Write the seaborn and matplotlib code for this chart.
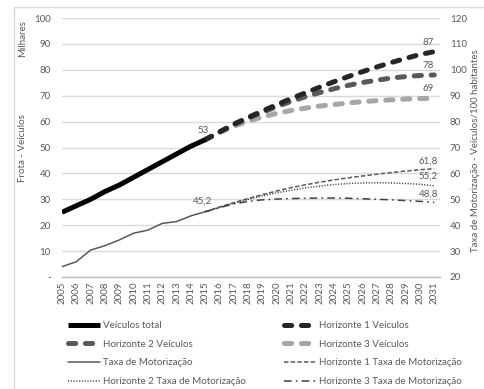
import matplotlib
matplotlib.use("Agg")
import matplotlib.pyplot as plt
import seaborn as sns
import pandas as pd
from matplotlib.patches import Rectangle
from matplotlib.ticker import FixedLocator

# ---- data -------------------------------------------------------------
anos_hist = list(range(2005, 2016))
anos_proj = list(range(2015, 2032))

veiculos_total = [25.0, 27.5, 30.0, 33.0, 35.5, 38.5, 41.5, 44.5, 47.5, 50.5, 53.0]
h1_veiculos = [53.0, 56.0, 59.0, 61.6, 64.1, 66.5, 68.9, 71.1, 73.3, 75.4, 77.4,
               79.3, 81.1, 82.8, 84.4, 85.9, 87.0]
h2_veiculos = [53.0, 56.0, 58.8, 61.3, 63.6, 65.8, 67.8, 69.6, 71.2, 72.7, 74.0,
               75.1, 76.0, 76.8, 77.4, 77.8, 78.0]
h3_veiculos = [53.0, 55.8, 58.2, 60.2, 61.8, 63.2, 64.3, 65.2, 66.0, 66.6, 67.2,
               67.7, 68.1, 68.4, 68.7, 68.9, 69.0]

taxa = [24.0, 25.9, 30.4, 32.1, 34.3, 36.9, 38.1, 40.7, 41.4, 43.6, 45.2]
h1_taxa = [45.2, 47.0, 48.7, 50.3, 51.8, 53.2, 54.5, 55.6, 56.6, 57.5, 58.3,
           59.0, 59.7, 60.3, 60.9, 61.4, 61.8]
h2_taxa = [45.2, 46.9, 48.5, 50.0, 51.3, 52.5, 53.5, 54.4, 55.1, 55.7, 56.1,
           56.3, 56.4, 56.3, 56.1, 55.8, 55.2]
h3_taxa = [45.2, 46.8, 48.2, 49.2, 49.8, 50.1, 50.3, 50.4, 50.5, 50.5, 50.4,
           50.2, 50.0, 49.8, 49.5, 49.2, 48.8]

rotulos_esq = ["-", "10", "20", "30", "40", "50", "60", "70", "80", "90", "100"]
rotulos_dir = ["20", "30", "40", "50", "60", "70", "80", "90", "100", "110", "120"]

# ---- style ------------------------------------------------------------
sns.set_theme(style="white")
plt.rcParams["font.family"] = ["Lato", "DejaVu Sans"]
plt.rcParams["lines.scale_dashes"] = False
CINZA_TXT = "#595959"
CINZA_GRADE = "#d9d9d9"
FS = 7

fig = plt.figure(figsize=(4.85, 3.89), dpi=100)
ax = fig.add_axes([62 / 485, 1 - 277 / 389, (440 - 62) / 485, (277 - 18) / 389])
ax2 = ax.twinx()

hist = pd.DataFrame({"ano": anos_hist, "veic": veiculos_total, "taxa": taxa})
proj = pd.DataFrame({"ano": anos_proj, "h1v": h1_veiculos, "h2v": h2_veiculos,
                     "h3v": h3_veiculos, "h1t": h1_taxa, "h2t": h2_taxa, "h3t": h3_taxa})

grosso = 3.6
tracos_grossos = (0, (5.2, 7.0))
handles = {}


def linha(axis, df, col, nome, **kw):
    sns.lineplot(data=df, x="ano", y=col, ax=axis, label=nome, legend=False, **kw)
    handles[nome] = axis.get_lines()[-1]


# vehicle fleet (left axis)
linha(ax, proj, "h3v", "Horizonte 3 Veículos", color="#a6a6a6", lw=grosso,
      linestyle=tracos_grossos, dash_capstyle="round")
linha(ax, proj, "h2v", "Horizonte 2 Veículos", color="#595959", lw=grosso,
      linestyle=tracos_grossos, dash_capstyle="round")
linha(ax, proj, "h1v", "Horizonte 1 Veículos", color="#262626", lw=grosso,
      linestyle=tracos_grossos, dash_capstyle="round")
linha(ax, hist, "veic", "Veículos total", color="black", lw=grosso,
      solid_capstyle="butt")

# motorization rate (right axis)
fino = 1.1
linha(ax2, hist, "taxa", "Taxa de Motorização", color="#595959", lw=fino)
linha(ax2, proj, "h1t", "Horizonte 1 Taxa de Motorização", color="#595959", lw=fino,
      linestyle=(0, (3.2, 1.6)))
linha(ax2, proj, "h2t", "Horizonte 2 Taxa de Motorização", color="#404040", lw=fino,
      linestyle=(0, (0.8, 1.2)))
linha(ax2, proj, "h3t", "Horizonte 3 Taxa de Motorização", color="#404040", lw=fino,
      linestyle=(0, (5.5, 3.0, 1.2, 3.0)))

# ---- axes -------------------------------------------------------------
ax.set_xlim(2005, 2031.4)
ax.set_ylim(0, 100)
ax2.set_ylim(20, 120)

anos_todos = list(range(2005, 2032))
ax.set_xticks(anos_todos)
ax.set_xticklabels([str(a) for a in anos_todos], rotation=90, fontsize=FS, color=CINZA_TXT)
ax.xaxis.set_minor_locator(FixedLocator(list(range(2005, 2031, 5))))
ax.set_yticks(range(0, 101, 10))
ax.set_yticklabels(rotulos_esq, fontsize=FS, color=CINZA_TXT)
ax2.set_yticks(range(20, 121, 10))
ax2.set_yticklabels(rotulos_dir, fontsize=FS, color=CINZA_TXT)

ax.grid(False)
ax.grid(True, axis="y", which="major", color=CINZA_GRADE, lw=1.0)
ax.grid(True, axis="x", which="minor", color=CINZA_GRADE, lw=1.0)
ax2.grid(False)
ax.tick_params(axis="x", which="both", length=0, pad=3)
ax.tick_params(axis="y", length=0, pad=8)
ax2.tick_params(axis="y", length=0, pad=7)
ax.set_xlabel("")
ax.set_ylabel("")
ax2.set_ylabel("")
for a in (ax, ax2):
    for s in ("left", "right", "top"):
        a.spines[s].set_visible(False)
    a.spines["bottom"].set_color("#bfbfbf")
    a.spines["bottom"].set_linewidth(1.0)
ax2.spines["bottom"].set_visible(False)

# ---- value labels -----------------------------------------------------
def fmt(v):
    return f"{v:g}".replace(".", ",")


rotulos = [
    (ax, anos_hist[-1], veiculos_total[-1], (-2, 5)),
    (ax, anos_proj[-1], h1_veiculos[-1], (-6, 5)),
    (ax, anos_proj[-1], h2_veiculos[-1], (-6, 5)),
    (ax, anos_proj[-1], h3_veiculos[-1], (-6, 5)),
    (ax2, anos_hist[-1], taxa[-1], (-3, 6)),
    (ax2, anos_proj[-1], h1_taxa[-1], (-6, 3)),
    (ax2, anos_proj[-1], h2_taxa[-1], (-6, 5)),
    (ax2, anos_proj[-1], h3_taxa[-1], (-6, 4)),
]
for a, x, v, off in rotulos:
    a.annotate(fmt(v), (x, v), xytext=off, textcoords="offset pixels",
               ha="center", va="bottom", fontsize=FS, color=CINZA_TXT)

# ---- axis titles ------------------------------------------------------
fig.text(23 / 485, 1 - 39 / 389, "Milhares", rotation=90, ha="center", va="center",
         fontsize=FS, color=CINZA_TXT)
fig.text(23 / 485, 1 - 148 / 389, "Frota - Veículos", rotation=90, ha="center",
         va="center", fontsize=FS, color=CINZA_TXT)
fig.text(476 / 485, 1 - 151 / 389, "Taxa de Motorização - Veículos/100 habitantes",
         rotation=90, ha="center", va="center", fontsize=FS, color=CINZA_TXT)

# ---- legend -----------------------------------------------------------
ordem = ["Veículos total", "Horizonte 2 Veículos", "Taxa de Motorização",
         "Horizonte 2 Taxa de Motorização",
         "Horizonte 1 Veículos", "Horizonte 3 Veículos",
         "Horizonte 1 Taxa de Motorização", "Horizonte 3 Taxa de Motorização"]
leg = fig.legend([handles[n] for n in ordem], ordem, ncol=2, loc="upper left",
                 bbox_to_anchor=(68 / 485, 1 - 321 / 389), frameon=False,
                 fontsize=FS, handlelength=3.3, handletextpad=0.3,
                 columnspacing=3.9, labelspacing=1.0, borderaxespad=0, borderpad=0)
for t in leg.get_texts():
    t.set_color(CINZA_TXT)

# ---- chart border -----------------------------------------------------
fig.patches.append(Rectangle((14 / 485, -0.05), 1.2, 1 - 7 / 389 + 0.05,
                             transform=fig.transFigure, fill=False,
                             edgecolor=CINZA_GRADE, lw=1.0))

fig.savefig("out.png", dpi=100)
